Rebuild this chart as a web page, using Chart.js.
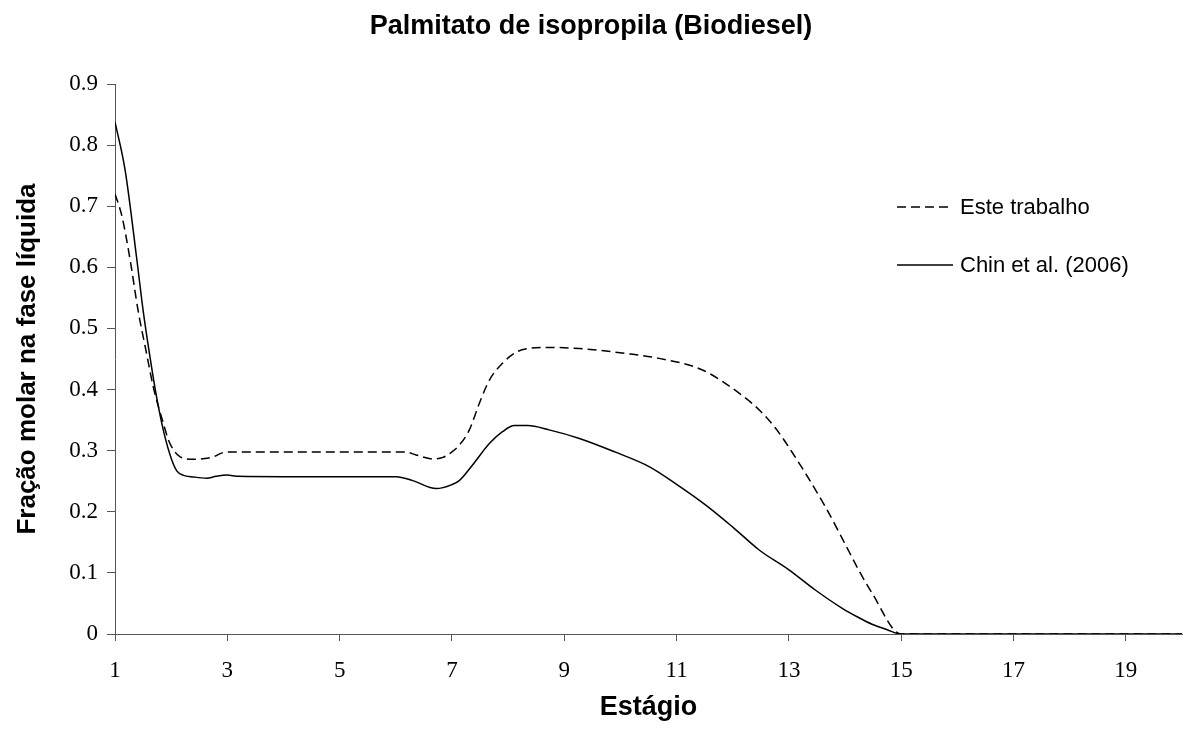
<!DOCTYPE html>
<html>
<head>
<meta charset="utf-8">
<script src="https://cdn.jsdelivr.net/npm/chart.js@4/dist/chart.umd.min.js"></script>
<style>
  html, body { margin: 0; padding: 0; background: #fff; }
  #wrap { width: 1183px; height: 731px; }
</style>
</head>
<body>
<div id="wrap"><canvas id="grafico"></canvas></div>
<script>
// Estágio x fração molar — Este trabalho (tracejado)
const estagioEste = [1, 1.12, 1.27, 1.41, 1.56, 1.68, 1.86, 1.95, 2.05, 2.16, 2.39, 2.6, 2.75, 2.93, 3.1, 4, 5, 6.16,
  6.36, 6.66, 6.84, 7, 7.13, 7.31, 7.49, 7.67, 7.9, 8.14, 8.38, 8.67, 9.27, 10.1, 10.69, 11.46, 12.23, 12.5,
  12.76, 13.06, 13.65, 14.07, 14.24, 14.48, 15, 16, 17, 18, 19, 20];
const fracaoEste = [0.72, 0.685, 0.612, 0.53, 0.46, 0.405, 0.345, 0.318, 0.3, 0.29, 0.286, 0.287, 0.29, 0.297, 0.298, 0.298, 0.298, 0.298,
  0.293, 0.2865, 0.289, 0.298, 0.309, 0.334, 0.378, 0.416, 0.443, 0.461, 0.4675, 0.469, 0.467, 0.459, 0.451, 0.432, 0.386, 0.364,
  0.337, 0.297, 0.208, 0.135, 0.105, 0.067, 0, 0, 0, 0, 0, 0];

// Chin et al. (2006) (linha cheia)
const estagioChin = [1, 1.18, 1.39, 1.5, 1.62, 1.74, 1.87, 2.01, 2.1, 2.21, 2.4, 2.63, 2.8, 2.99, 3.2, 4, 5, 6.01,
  6.3, 6.72, 6.99, 7.13, 7.37, 7.67, 7.9, 8.11, 8.35, 8.73, 9.27, 9.9, 10.51, 11, 11.52, 12, 12.47,
  13, 13.47, 13.95, 14.24, 14.48, 14.75, 15, 16, 17, 18, 19, 20];
const fracaoChin = [0.838, 0.759, 0.612, 0.53, 0.455, 0.388, 0.33, 0.285, 0.267, 0.26, 0.257, 0.255, 0.258, 0.26, 0.258, 0.2575, 0.2575, 0.2575,
  0.251, 0.238, 0.244, 0.251, 0.277, 0.312, 0.331, 0.341, 0.341, 0.334, 0.32, 0.298, 0.274, 0.245, 0.211, 0.175, 0.1375,
  0.105, 0.072, 0.042, 0.027, 0.016, 0.007, 0, 0, 0, 0, 0, 0];

const xTicks = [1, 3, 5, 7, 9, 11, 13, 15, 17, 19];
const yTicks = [0, 0.1, 0.2, 0.3, 0.4, 0.5, 0.6, 0.7, 0.8, 0.9];

const pontos = (xs, ys) => xs.map((x, i) => ({ x: x, y: ys[i] }));

const corEixo = '#555555';
const serif = "'Liberation Serif', 'Times New Roman', serif";
const sans = "'Liberation Sans', Arial, sans-serif";

// legenda desenhada dentro da área do gráfico
const legendaInterna = {
  id: 'legendaInterna',
  afterDraw(chart) {
    const ctx = chart.ctx;
    const x0 = 897, x1 = 953;
    const linhas = [207, 265];
    ctx.save();
    chart.data.datasets.forEach((ds, i) => {
      const y = linhas[i];
      ctx.beginPath();
      ctx.strokeStyle = ds.borderColor;
      ctx.lineWidth = ds.borderWidth;
      ctx.setLineDash(ds.borderDash || []);
      ctx.moveTo(x0, y);
      ctx.lineTo(x1, y);
      ctx.stroke();
      ctx.setLineDash([]);
      ctx.fillStyle = '#000';
      ctx.font = '22px ' + sans;
      ctx.textAlign = 'left';
      ctx.textBaseline = 'middle';
      ctx.fillText(ds.label, x1 + 7, y + 1);
    });
    ctx.restore();
  }
};

new Chart(document.getElementById('grafico'), {
  type: 'scatter',
  data: {
    datasets: [{
      label: 'Este trabalho',
      data: pontos(estagioEste, fracaoEste),
      showLine: true,
      borderColor: '#000',
      borderWidth: 1.5,
      borderDash: [9, 5],
      pointRadius: 0,
      cubicInterpolationMode: 'monotone'
    }, {
      label: 'Chin et al. (2006)',
      data: pontos(estagioChin, fracaoChin),
      showLine: true,
      borderColor: '#000',
      borderWidth: 1.5,
      pointRadius: 0,
      cubicInterpolationMode: 'monotone'
    }]
  },
  options: {
    responsive: true,
    maintainAspectRatio: false,
    animation: false,
    layout: { padding: { left: 0, right: 1, top: 0, bottom: 0 } },
    plugins: {
      legend: { display: false },
      tooltip: { enabled: false },
      title: {
        display: true,
        text: 'Palmitato de isopropila (Biodiesel)',
        color: '#000',
        font: { family: sans, size: 27, weight: 'bold' },
        padding: { top: 10, bottom: 41.6 }
      }
    },
    scales: {
      x: {
        type: 'linear',
        min: 1,
        max: 20,
        afterBuildTicks: s => { s.ticks = xTicks.map(v => ({ value: v })); },
        afterFit: s => { s.height = 97; },
        grid: { display: true, drawOnChartArea: false, drawTicks: true, tickLength: 7, color: corEixo },
        border: { display: true, color: corEixo, width: 1 },
        ticks: {
          color: '#000',
          font: { family: serif, size: 23 },
          padding: 16,
          maxRotation: 0,
          autoSkip: false
        },
        title: {
          display: true,
          text: 'Estágio',
          color: '#000',
          font: { family: sans, size: 27, weight: 'bold' },
          padding: { top: 0, bottom: 7 }
        }
      },
      y: {
        min: 0,
        max: 0.9,
        afterBuildTicks: s => { s.ticks = yTicks.map(v => ({ value: v })); },
        afterFit: s => { s.width = 115; },
        grid: { display: true, drawOnChartArea: false, drawTicks: true, tickLength: 8, color: corEixo },
        border: { display: true, color: corEixo, width: 1 },
        ticks: {
          color: '#000',
          font: { family: serif, size: 23 },
          padding: 9,
          callback: v => (v === 0 ? '0' : v.toFixed(1))
        },
        title: {
          display: true,
          text: 'Fração molar na fase líquida',
          color: '#000',
          font: { family: sans, size: 26, weight: 'bold' },
          padding: { top: 12, bottom: 0 }
        }
      }
    }
  },
  plugins: [legendaInterna]
});
</script>
</body>
</html>
